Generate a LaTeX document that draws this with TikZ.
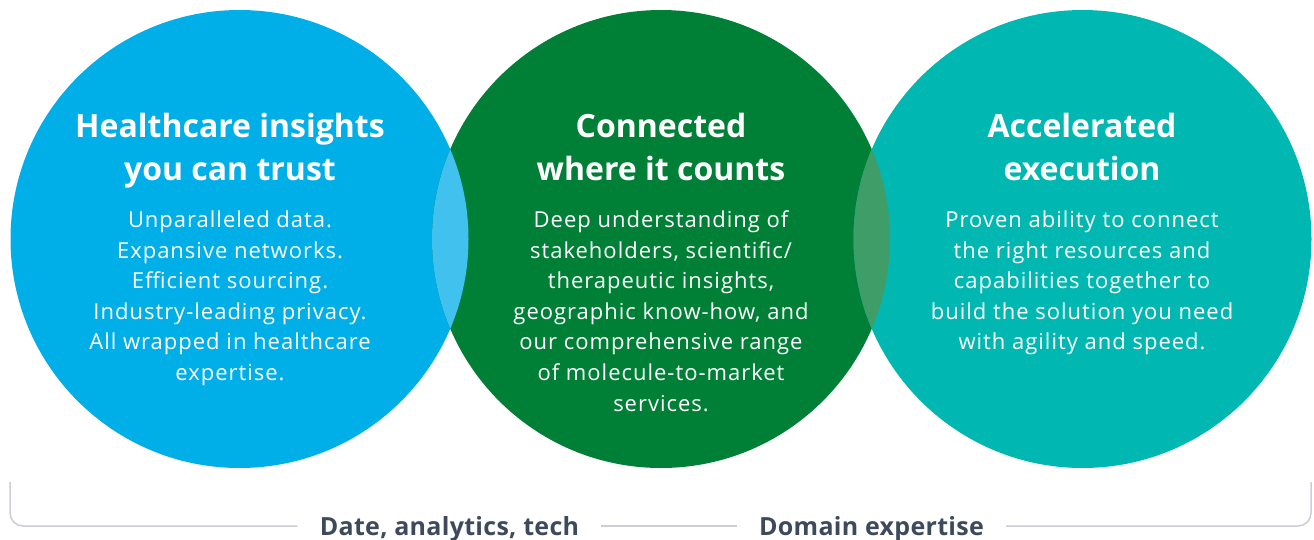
\documentclass[tikz,border=0pt]{standalone}
\usepackage{fontspec}
\setmainfont{Open Sans}
\newfontfamily\bodyfont[LetterSpace=4.5]{Open Sans}
\newfontfamily\labfont[LetterSpace=1.2]{Open Sans}
\definecolor{cblue}{HTML}{00AEE8}
\definecolor{cgreen}{HTML}{008036}
\definecolor{cteal}{HTML}{00B8B1}
\definecolor{lensblue}{HTML}{40C1EE}
\definecolor{lensgreen}{HTML}{3F9E68}
\definecolor{labtext}{HTML}{3D4A5C}
\definecolor{bracketgray}{HTML}{CDCDD5}
\begin{document}
\begin{tikzpicture}[x=1pt,y=-1pt,
  disc/.style={circle, inner sep=0pt, outer sep=0pt, minimum size=458pt},
  title/.style={font=\fontsize{32}{42}\selectfont\bfseries, text=white, anchor=base, inner sep=0pt},
  body/.style={font=\bodyfont\fontsize{22}{30.6}\selectfont, text=white, anchor=base, inner sep=0pt},
  lab/.style={font=\labfont\fontsize{25}{28}\selectfont\bfseries, text=labtext, anchor=base, inner xsep=22pt, inner ysep=0pt, text height=18pt, text depth=0pt},
  bracket/.style={draw=bracketgray, line width=1.5pt, rounded corners=13pt}]
\useasboundingbox (0,0) rectangle (1314,539);
% circles
\node[disc, fill=cblue] (c1) at (239.5,239) {};
\node[disc, fill=cgreen] (c2) at (661,239) {};
\node[disc, fill=cteal] (c3) at (1082.5,239) {};
% lenses
\begin{scope}
  \clip (c1.center) circle[radius=229];
  \fill[lensblue] (c2.center) circle[radius=229];
\end{scope}
\begin{scope}
  \clip (c2.center) circle[radius=229];
  \fill[lensgreen] (c3.center) circle[radius=229];
\end{scope}
% titles
\node[title] (t1a) at (230,137.5) {Healthcare insights};
\node[title] (t1b) at (230,180) {you can trust};
\node[title] (t2a) at (661,137.5) {Connected};
\node[title] (t2b) at (661,180) {where it counts};
\node[title] (t3a) at (1082,137.5) {Accelerated};
\node[title] (t3b) at (1082,180) {execution};
% bodies
\foreach \t [count=\i from 0] in {{Unparalleled data.},{Expansive networks.},{Efficient sourcing.},{Industry-leading privacy.},{All wrapped in healthcare},{expertise.}}
  \node[body] (ba\i) at (230,227.5+30.6*\i) {\t};
\foreach \t [count=\i from 0] in {{Deep understanding of},{stakeholders, scientific/},{therapeutic insights,},{geographic know-how, and},{our comprehensive range},{of molecule-to-market},{services.}}
  \node[body] (bb\i) at (661,227.5+30.6*\i) {\t};
\foreach \t [count=\i from 0] in {{Proven ability to connect},{the right resources and},{capabilities together to},{build the solution you need},{with agility and speed.}}
  \node[body] (bc\i) at (1082,227.5+30.6*\i) {\t};
% bracket
\coordinate (bl) at (10,482);
\coordinate (br) at (1311,482);
\node[lab] (lab1) at (449.5,535) {Date, analytics, tech};
\node[lab] (lab2) at (871.5,535) {Domain expertise};
\draw[bracket] (bl) |- (lab1.west);
\draw[bracket] (lab1.east) -- (lab2.west);
\draw[bracket] (lab2.east) -| (br);
\end{tikzpicture}
\end{document}
